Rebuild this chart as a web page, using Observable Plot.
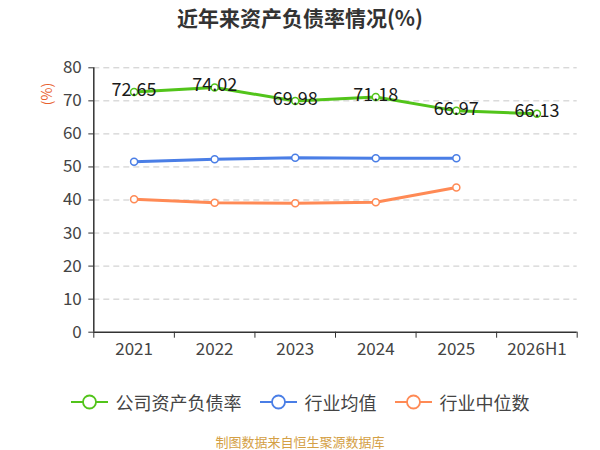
<!DOCTYPE html>
<html>
<head>
<meta charset="utf-8">
<script src="https://cdn.jsdelivr.net/npm/d3@7"></script>
<script src="https://cdn.jsdelivr.net/npm/@observablehq/plot@0.6"></script>
<style>
  html, body { margin: 0; padding: 0; background: #fff; }
  #wrap { position: relative; width: 600px; height: 450px; overflow: hidden; font-family: "Noto Sans CJK SC", "Noto Sans", sans-serif; }
  #title { position: absolute; left: 0; top: 2px; width: 600px; text-align: center; font-size: 21px; font-weight: bold; color: #333; line-height: 30px; }
  #chart { position: absolute; left: 0; top: 40px; }
  #ylab { position: absolute; left: 46px; top: 94px; transform: translate(-50%, -50%) rotate(-90deg); font-size: 14px; color: #e8602c; white-space: nowrap; }
  #legend { position: absolute; left: 0; top: 389px; width: 600px; display: flex; justify-content: center; align-items: center; font-size: 18px; color: #444; }
  #legend .item { display: flex; align-items: center; margin: 0 9px; }
  #legend svg { margin-right: 8px; }
  #caption { position: absolute; left: 0; top: 432px; width: 600px; text-align: center; font-size: 13px; color: #d4a045; }
</style>
</head>
<body>
<div id="wrap">
  <div id="title">近年来资产负债率情况(%)</div>
  <div id="chart"></div>
  <div id="ylab">(%)</div>
  <div id="legend"></div>
  <div id="caption">制图数据来自恒生聚源数据库</div>
</div>
<script>
const categories = ["2021", "2022", "2023", "2024", "2025", "2026H1"];
const companyRatio = [72.65, 74.02, 69.98, 71.18, 66.97, 66.13];
const industryAvg = [51.6, 52.3, 52.8, 52.6, 52.6];
const industryMedian = [40.2, 39.2, 39.0, 39.3, 43.8];
const yTicks = [0, 10, 20, 30, 40, 50, 60, 70, 80];
const seriesNames = ["公司资产负债率", "行业均值", "行业中位数"];
const seriesColors = ["#52c41a", "#4a7ee6", "#ff8a55"];

const toRows = (vals, name) => vals.map((v, i) => ({i, v, name}));
const rowsCompany = toRows(companyRatio, seriesNames[0]);
const rowsAvg = toRows(industryAvg, seriesNames[1]);
const rowsMed = toRows(industryMedian, seriesNames[2]);

const idx = categories.map((c, i) => i);
const bounds = d3.range(categories.length + 1).map(i => i - 0.5);
const font = "'Noto Sans CJK SC', 'Noto Sans', sans-serif";

const lineDot = (rows, color) => [
  Plot.line(rows, {x: "i", y: "v", stroke: color, strokeWidth: 3}),
  Plot.dot(rows, {x: "i", y: "v", r: 3.5, fill: "#fff", stroke: color, strokeWidth: 1.5})
];

const chart = Plot.plot({
  width: 600,
  height: 330,
  marginLeft: 93.3,
  marginRight: 23.3,
  marginTop: 27.3,
  marginBottom: 38.3,
  style: {fontFamily: font, fontSize: "16px", color: "#444", background: "transparent"},
  x: {type: "linear", domain: [-0.5, categories.length - 0.5]},
  y: {domain: [0, 80]},
  marks: [
    Plot.gridY(yTicks.filter(t => t > 0), {stroke: "#c8c8c8", strokeOpacity: 1, strokeDasharray: "6,4"}),
    Plot.axisY({ticks: yTicks, tickSize: 5, tickPadding: 7, label: null, stroke: "#333", fontSize: 17, fill: "#444"}),
    Plot.axisX({ticks: bounds, tickFormat: () => "", tickSize: 6, label: null, stroke: "#333"}),
    Plot.axisX({ticks: idx, tickFormat: i => categories[i], tickSize: 0, tickPadding: 11, label: null, fontSize: 17, fill: "#444"}),
    Plot.ruleX([bounds[0]], {stroke: "#333", strokeWidth: 1.5}),
    Plot.ruleY([0], {stroke: "#333", strokeWidth: 1.5}),
    ...lineDot(rowsMed, seriesColors[2]),
    ...lineDot(rowsAvg, seriesColors[1]),
    ...lineDot(rowsCompany, seriesColors[0]),
    Plot.text(rowsCompany, {x: "i", y: "v", text: d => d.v.toFixed(2), dy: -2, fontSize: 18, fill: "#1a1a1a"})
  ]
});
document.getElementById("chart").appendChild(chart);

const legend = document.getElementById("legend");
seriesNames.forEach((name, k) => {
  const item = document.createElement("div");
  item.className = "item";
  item.innerHTML = `<svg width="37" height="16"><line x1="0" y1="8" x2="37" y2="8" stroke="${seriesColors[k]}" stroke-width="2"/><circle cx="18.5" cy="8" r="6.5" fill="#fff" stroke="${seriesColors[k]}" stroke-width="1.8"/></svg><span>${name}</span>`;
  legend.appendChild(item);
});
</script>
</body>
</html>
